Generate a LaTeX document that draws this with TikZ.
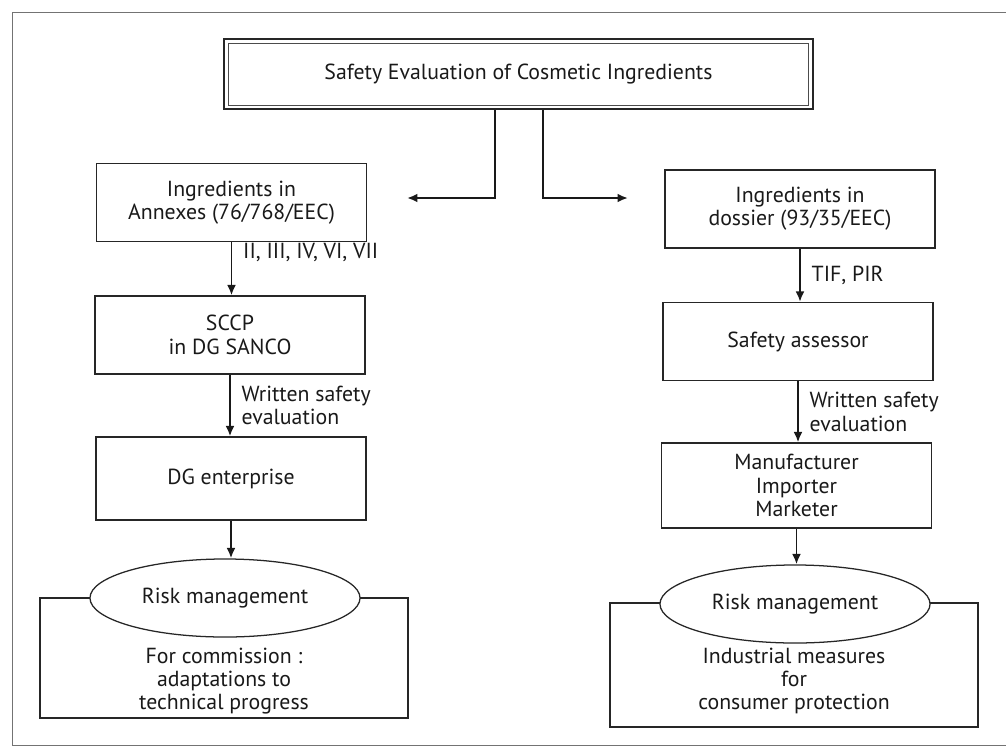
\documentclass[tikz,border=0pt]{standalone}
\usepackage{fontspec}
\setmainfont{PT Sans}
\usetikzlibrary{positioning,shapes.geometric,arrows.meta,calc}

\tikzset{
  txt/.style={text=black!90, font=\fontsize{15.5}{16.6}\selectfont},
  block/.style={txt, draw=black!85, line width=0.9pt, minimum width=6.75cm, minimum height=1.95cm, align=center},
  risk/.style={txt, ellipse, draw=black!85, line width=0.9pt, fill=white, minimum width=6.75cm, minimum height=1.95cm},
  panel/.style={draw=black!85, line width=0.9pt, minimum width=9.2cm},
  note/.style={txt, align=center},
  flow/.style={-{Latex[length=2.6mm,width=2.2mm]}, line width=1.4pt, black!90},
  fork/.style={flow, line width=1.9pt}
}

\begin{document}
\begin{tikzpicture}[x=0.025cm, y=-0.025cm]
  \useasboundingbox (0,0) rectangle (1006,751);

  % Page frame
  \draw[black!55, line width=0.6pt] (1006,12) -- (12,12) -- (12,745) -- (1006,745);

  % Title box with double border
  \node[block, minimum width=14.725cm, minimum height=1.75cm, line width=1.6pt] (title) at (518.5,74) {Safety Evaluation of Cosmetic Ingredients};
  \draw[black!70, line width=0.5pt] ($(title.north west)+(6,5)$) rectangle ($(title.south east)+(-6,-5)$);

  % Left column: annexes
  \node[block] (ann) at (231.5,202.5) {Ingredients in\\Annexes (76/768/EEC)};
  \node[block] (sccp) at (230,335) {SCCP\\in DG SANCO};
  \node[block, minimum height=2.075cm] (dgent) at (231,478.5) {DG enterprise};
  \node[panel, minimum height=3cm] (cmsn) at (224,658) {};
  \node[note] (cmsntext) at (224,681) {For commission :\\adaptations to\\technical progress};
  \node[risk] (riskL) at (225,598) {Risk management};

  % Right column: dossier
  \node[block] (dos) at (800,209) {Ingredients in\\dossier (93/35/EEC)};
  \node[block] (assess) at (798,341.5) {Safety assessor};
  \node[block, minimum height=2.125cm] (manuf) at (796.5,485.5) {Manufacturer\\Importer\\Marketer};
  \node[panel, minimum height=3.1cm] (ind) at (794,665) {};
  \node[note] (indtext) at (794,681) {Industrial measures\\for\\consumer protection};
  \node[risk] (riskR) at (795,604) {Risk management};

  % Fork from the title
  \coordinate (toL) at (407,198);
  \coordinate (toR) at (628,198);
  \draw[fork] ([xshift=-0.5875cm]title.south) |- (toL);
  \draw[fork] ([xshift=0.6125cm]title.south) |- (toR);

  % Arrows down each column
  \foreach \a/\b/\p/\t in {ann/sccp/0.2/{II, III, IV, VI, VII}, sccp/dgent/0.5/{Written safety\\evaluation}, dgent/riskL/0.5/{}, dos/assess/0.5/{TIF, PIR}, assess/manuf/0.5/{Written safety\\evaluation}, manuf/riskR/0.5/{}} {
    \draw[flow] (\a.south) -- (\a.south |- \b.north) node[txt, pos=\p, right=0.15cm, align=left] {\t};
  }
\end{tikzpicture}
\end{document}
